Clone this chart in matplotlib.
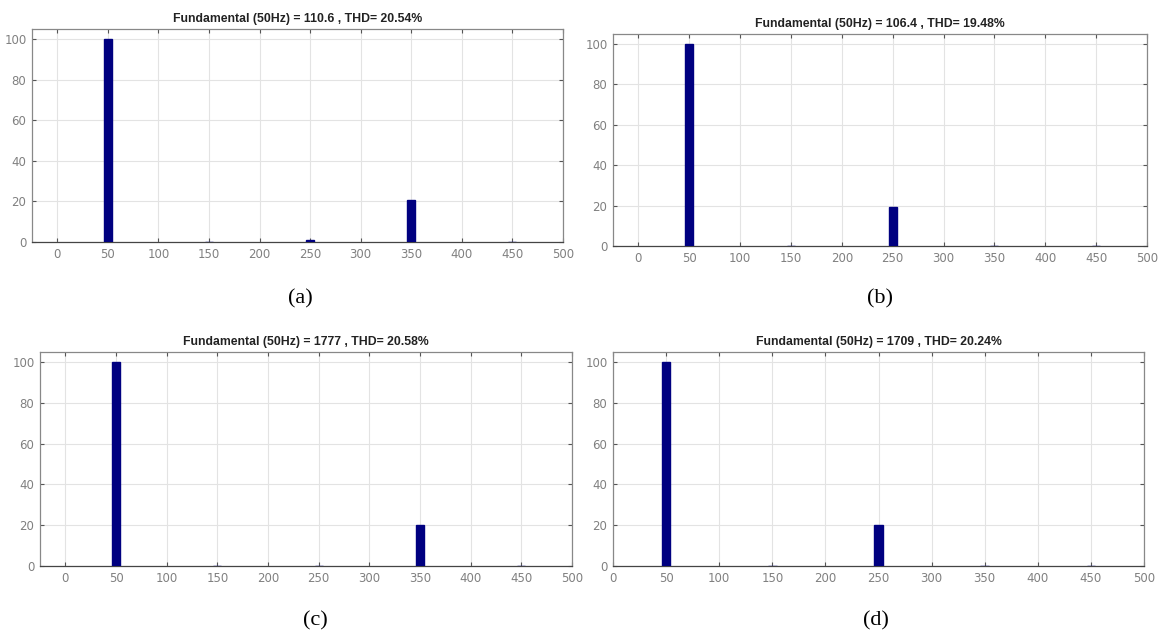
import matplotlib
matplotlib.use("Agg")
import matplotlib.pyplot as plt

W, H = 1161, 637

harm_freqs = [50, 150, 250, 350, 450]
mag_a = [100, 0.15, 1.0, 20.5, 0.15]
mag_b = [100, 0.15, 19.5, 0.15, 0.15]
mag_c = [100, 0.15, 0.15, 20.0, 0.15]
mag_d = [100, 0.15, 20.0, 0.15, 0.15]

titles = [
    "Fundamental (50Hz) = 110.6 , THD= 20.54%",
    "Fundamental (50Hz) = 106.4 , THD= 19.48%",
    "Fundamental (50Hz) = 1777 , THD= 20.58%",
    "Fundamental (50Hz) = 1709 , THD= 20.24%",
]
panel_labels = ["(a)", "(b)", "(c)", "(d)"]
xticks = [0, 50, 100, 150, 200, 250, 300, 350, 400, 450, 500]
yticks = [0, 20, 40, 60, 80, 100]

# pixel boxes: left, top, right, bottom ; xlim lower ; label position
boxes = [
    (32, 29, 563, 242, -25, (300, 299)),
    (613, 34, 1147, 246, -25, (880, 299)),
    (40, 352, 572, 566, -25, (315, 621)),
    (613, 352, 1144, 566, 0, (876, 621)),
]
mags = [mag_a, mag_b, mag_c, mag_d]

fig = plt.figure(figsize=(W / 100, H / 100), dpi=100)
fig.patch.set_facecolor("white")

for (l, t, r, b, xlo, lab), mag, title, plab in zip(boxes, mags, titles, panel_labels):
    ax = fig.add_axes([l / W, 1 - b / H, (r - l) / W, (b - t) / H])
    ax.bar(harm_freqs, mag, width=8, color="#000080", edgecolor="#000080", zorder=3)
    ax.set_xlim(xlo, 500)
    ax.set_ylim(0, 105)
    ax.set_xticks(xticks)
    ax.set_yticks(yticks)
    ax.grid(True, color="#e3e3e3", linewidth=0.8, zorder=0)
    ax.tick_params(direction="in", length=3, colors="#555555", labelsize=8.5,
                   top=True, right=True, labelcolor="#808080", pad=4)
    for s in ax.spines.values():
        s.set_color("#888888")
        s.set_linewidth(0.9)
    ax.spines["bottom"].set_color("#444444")
    ax.set_title(title, fontsize=8.8, fontweight="bold", color="#222222",
                 family="Liberation Sans", pad=5)
    fig.text(lab[0] / W, 1 - lab[1] / H, plab, ha="center", va="center",
             fontsize=16, family="Liberation Serif", color="black")

fig.savefig("out.png", dpi=100)
